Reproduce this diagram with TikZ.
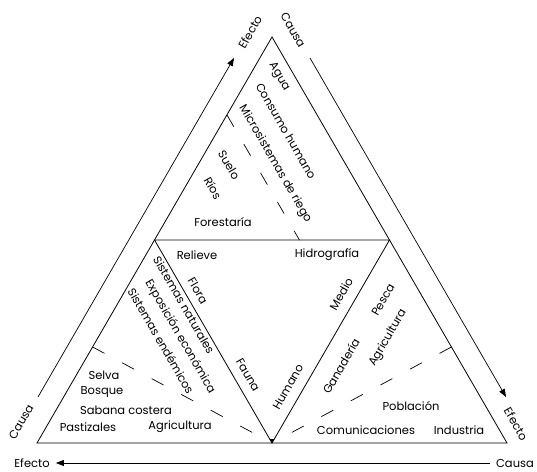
\documentclass[tikz,border=0pt]{standalone}
\usepackage{fontspec}
\setmainfont{Poppins}
\usetikzlibrary{arrows.meta,calc}

\begin{document}
\begin{tikzpicture}[x=1pt,y=1pt,
  lbl/.style={font=\fontsize{11.5}{13}\selectfont, inner sep=0pt},
  trenn/.style={line width=0.7pt, dash pattern=on 13.5pt off 20pt},
  pfeil/.style={line width=0.7pt, -{Triangle[length=8pt,width=6pt]}}]

\useasboundingbox (0,0) rectangle (537,471);

% Dreiecke
\coordinate (A) at (37,28);
\coordinate (B) at (507,28);
\coordinate (C) at (272,434);
\coordinate (L) at (154.5,231);
\coordinate (R) at (389.5,231);
\coordinate (M) at (272,28);

\draw[line width=0.8pt] (A) -- (B) -- (C) -- cycle;
\draw[line width=0.8pt] (L) -- (R) -- (M) -- cycle;
\fill (M) -- ++(-2.5,4) -- ++(5,0) -- cycle;

% Trennlinien
\coordinate (t1) at (227,356);
\coordinate (t2) at (299.4,231);
\coordinate (l1) at (92.6,124);
\coordinate (r1) at (451.4,124);

\draw[trenn] (t1) -- (t2);
\draw[trenn] (l1) -- ($(l1)!0.889!(M)$);
\draw[trenn] (r1) -- ($(r1)!0.889!(M)$);

% Pfeile
\coordinate (la) at (38,74);
\coordinate (lb) at (234,413);
\coordinate (ra) at (310,413);
\coordinate (rb) at (506,74);

\draw[pfeil] (la) -- (lb);
\draw[pfeil] (ra) -- (rb);

%Beschriftung
\node[lbl,rotate=60] (efecto1) at (250,439) {Efecto};
\node[lbl,rotate=-60] (causa1) at (293,441) {Causa};
\node[lbl,rotate=60] (causa2) at (21,49) {Causa};
\node[lbl,rotate=-60] (efecto2) at (516,47) {Efecto};
\node[lbl] (efecto3) at (32,8) {Efecto};
\node[lbl] (causa3) at (515,8) {Causa};

\draw[pfeil, shorten <=6pt, shorten >=6pt] (causa3.west) -- (efecto3.east);

\node[lbl,rotate=-60] (agua) at (279,394) {Agua};
\node[lbl,rotate=-60] (consumo) at (286,340) {Consumo humano};
\node[lbl,rotate=-60] (micro) at (275,307) {Microsistemas de riego};
\node[lbl,rotate=-60] (suelo) at (229,306) {Suelo};
\node[lbl,rotate=-60] (rios) at (213,283) {Ríos};
\node[lbl] (forest) at (223,249) {Forestaría};

\node[lbl] (relieve) at (197,216) {Relieve};
\node[lbl] (hidro) at (327,216) {Hidrografía};
\node[lbl,rotate=-60] (flora) at (198,180) {Flora};
\node[lbl,rotate=-60] (fauna) at (248,96) {Fauna};
\node[lbl,rotate=60] (humano) at (288,84) {Humano};
\node[lbl,rotate=60] (medio) at (341,177) {Medio};

\node[lbl,rotate=-60] (natur) at (184,166) {Sistemas naturales};
\node[lbl,rotate=-60] (expo) at (180,134) {Exposición económica};
\node[lbl,rotate=-60] (endem) at (161,130) {Sistemas endémicos};

\node[lbl] (selva) at (104,96) {Selva};
\node[lbl] (bosque) at (102,79) {Bosque};
\node[lbl] (sabana) at (126,61) {Sabana costera};
\node[lbl] (pasti) at (88,44) {Pastizales};
\node[lbl] (agri1) at (180,44) {Agricultura};

\node[lbl,rotate=60] (pesca) at (383,171) {Pesca};
\node[lbl,rotate=60] (agri2) at (388,133) {Agricultura};
\node[lbl,rotate=60] (gana) at (341,105) {Ganadería};
\node[lbl] (pobl) at (411,65) {Población};
\node[lbl] (comu) at (366,41) {Comunicaciones};
\node[lbl] (indu) at (459,41) {Industria};

\end{tikzpicture}
\end{document}
